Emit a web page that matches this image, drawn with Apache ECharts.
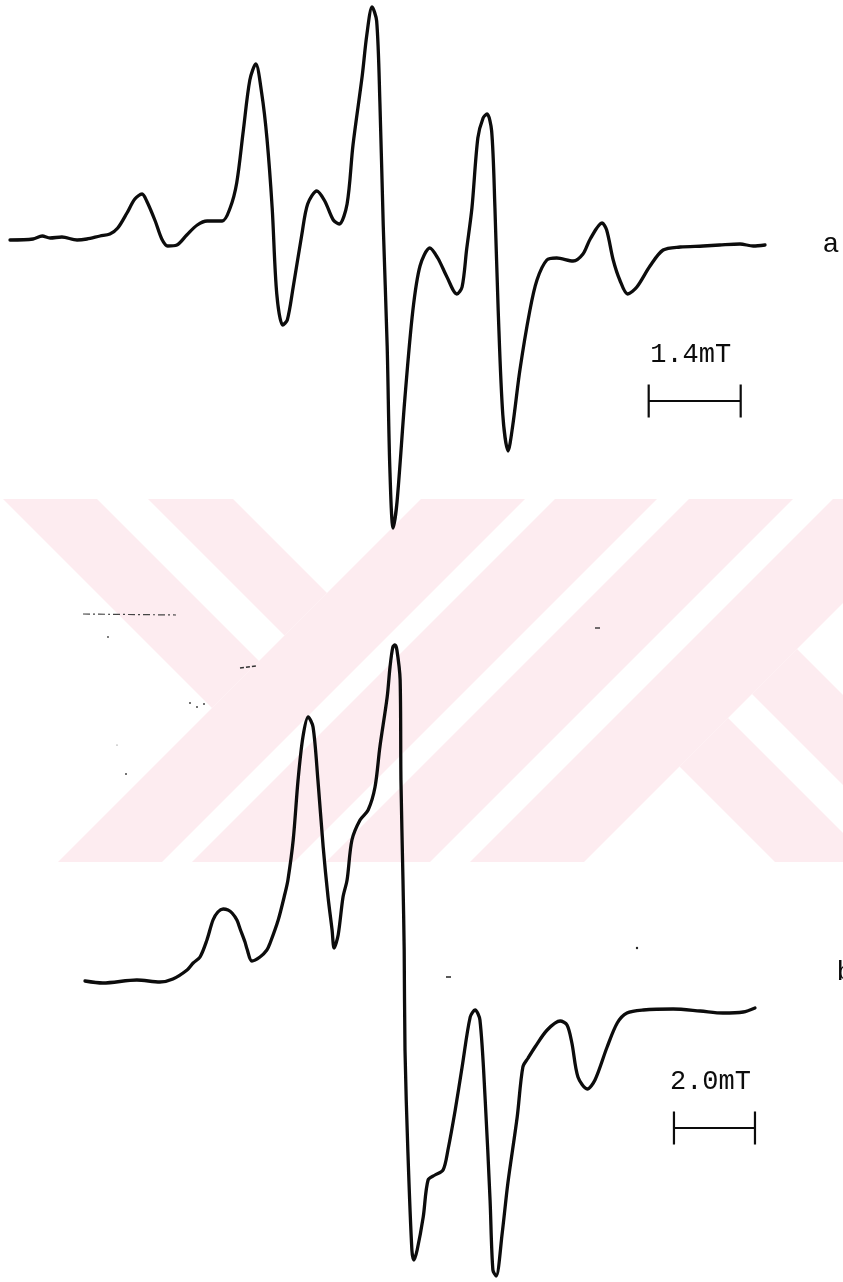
<!DOCTYPE html>
<html>
<head>
<meta charset="utf-8">
<script src="https://cdn.jsdelivr.net/npm/echarts@6/dist/echarts.min.js"></script>
<style>
  html, body { margin: 0; padding: 0; background: #ffffff; }
  #chart { width: 843px; height: 1282px; }
</style>
</head>
<body>
<div id="chart"></div>
<script>
// ---- Spectrum a: magnetic field offset (mT) and first-derivative signal (arb. units)
const fieldA = [0, 0.35, 0.49, 0.61, 0.79, 1.02, 1.17, 1.37, 1.52, 1.64, 1.78, 1.90, 2.01, 2.08, 2.21,
  2.31, 2.40, 2.54, 2.69, 2.85, 3.00, 3.23, 3.35, 3.45, 3.55, 3.65, 3.74, 3.83, 3.91, 3.99,
  4.06, 4.15, 4.22, 4.31, 4.44, 4.53, 4.67, 4.79, 4.92, 5.01, 5.13, 5.22, 5.36, 5.43, 5.51,
  5.58, 5.63, 5.68, 5.74, 5.78, 5.83, 5.89, 6.01, 6.13, 6.24, 6.39, 6.51, 6.65, 6.80, 6.88,
  6.95, 7.03, 7.12, 7.20, 7.26, 7.33, 7.38, 7.43, 7.50, 7.58, 7.65, 7.76, 7.91, 8.02, 8.17,
  8.32, 8.57, 8.72, 8.83, 9.01, 9.08, 9.18, 9.28, 9.40, 9.54, 9.74, 9.94, 10.20, 10.55, 10.80,
  11.11, 11.31, 11.49];
const signalA = [0, 1, 4, 2, 3, 0, 1, 4, 6, 12, 27, 41, 46, 39, 19,
  1, -6, -5, 5, 15, 19, 19, 32, 57, 109, 160, 176, 147, 102, 32,
  -54, -85, -80, -47, 5, 36, 49, 39, 20, 16, 36, 95, 164, 205, 233,
  219, 136, 15, -106, -227, -288, -262, -158, -71, -26, -8, -18, -37, -54, -47,
  -9, 32, 102, 122, 126, 109, 32, -71, -175, -211, -186, -130, -71, -40, -20,
  -18, -21, -14, 1, 17, 10, -20, -40, -54, -47, -26, -10, -7, -6, -5,
  -4, -6, -5];

// ---- Spectrum b
const fieldB = [0, 0.44, 1.28, 1.85, 2.17, 2.52, 2.67, 2.84, 3.01, 3.16, 3.28, 3.41, 3.53, 3.63, 3.75,
  3.83, 3.95, 4.00, 4.12, 4.32, 4.49, 4.57, 4.77, 4.94, 5.01, 5.14, 5.26, 5.38, 5.51, 5.63,
  5.75, 5.88, 6.00, 6.10, 6.15, 6.25, 6.37, 6.47, 6.59, 6.79, 6.99, 7.16, 7.28, 7.46, 7.53,
  7.60, 7.65, 7.70, 7.78, 7.80, 7.85, 7.88, 7.90, 7.97, 8.07, 8.12, 8.20, 8.35, 8.47, 8.64,
  8.84, 8.96, 9.14, 9.31, 9.51, 9.63, 9.75, 9.88, 10.00, 10.07, 10.15, 10.30, 10.44, 10.67, 10.81,
  10.94, 11.11, 11.41, 11.73, 11.90, 12.02, 12.17, 12.40, 12.59, 12.89, 13.14, 13.38, 13.78, 14.52, 15.19,
  15.75, 16.25, 16.54];
const signalB = [-1, -3, 0, -2, 1, 10, 17, 23, 40, 60, 68, 71, 70, 67, 60,
  51, 38, 31, 19, 23, 30, 37, 60, 87, 100, 140, 200, 243, 263, 253,
  200, 133, 83, 50, 32, 45, 83, 100, 140, 160, 170, 193, 233, 283, 313,
  333, 335, 330, 300, 200, 100, 30, -70, -170, -270, -280, -270, -237, -200, -195,
  -190, -170, -130, -87, -37, -30, -40, -120, -220, -290, -296, -253, -203, -137, -87,
  -78, -67, -50, -41, -45, -63, -97, -109, -100, -67, -43, -33, -30, -29, -31,
  -33, -32, -28];

// ---- Field scale bars (mT) and panel captions
const scaleBarsMT = [1.4, 2.0];
const scaleLabels = ['1.4mT', '2.0mT'];
const panelLabels = ['a', 'b'];

// ---------------------------------------------------------------------------
const INK = '#0c0c0c';
const MONO = '"Liberation Mono", "DejaVu Sans Mono", monospace';

const zip = (xs, ys) => xs.map((x, i) => [x, ys[i]]);

// scale bar placement in each panel's own data space: start field, level, tick half-height
const barPlace = [
  { start: 9.72, level: -161, tick: 16.5 },
  { start: 14.54, level: -148, tick: 16.5 }
];
function scaleBarPath(i) {
  const p = barPlace[i], x0 = p.start, x1 = p.start + scaleBarsMT[i];
  return [
    [x0, p.level + p.tick], [x0, p.level - p.tick], [x0, p.level],
    [x1, p.level], [x1, p.level + p.tick], [x1, p.level - p.tick]
  ];
}

// ---- faint pink banner behind the lower spectrum, built from 45° bands
const BAND = { x0: 0, x1: 843, y0: 499, y1: 862 };
function clipHalf(poly, a, b, c) { // keep a*x + b*y + c >= 0
  const out = [];
  for (let i = 0; i < poly.length; i++) {
    const p = poly[i], q = poly[(i + 1) % poly.length];
    const fp = a * p[0] + b * p[1] + c, fq = a * q[0] + b * q[1] + c;
    if (fp >= 0) out.push(p);
    if ((fp >= 0) !== (fq >= 0)) {
      const t = fp / (fp - fq);
      out.push([p[0] + t * (q[0] - p[0]), p[1] + t * (q[1] - p[1])]);
    }
  }
  return out;
}
function bandPiece(limits) {
  // limits: {uMin,uMax,vMin,vMax} on u = x + y and v = x - y
  let poly = [[BAND.x0, BAND.y0], [BAND.x1, BAND.y0], [BAND.x1, BAND.y1], [BAND.x0, BAND.y1]];
  if (limits.uMin != null) poly = clipHalf(poly, 1, 1, -limits.uMin);
  if (limits.uMax != null) poly = clipHalf(poly, -1, -1, limits.uMax);
  if (limits.vMin != null) poly = clipHalf(poly, 1, -1, -limits.vMin);
  if (limits.vMax != null) poly = clipHalf(poly, -1, 1, limits.vMax);
  return poly;
}
const bannerPieces = [
  { vMin: -496, vMax: -402, uMax: 920 },
  { vMin: -351, vMax: -266, uMax: 920 },
  { uMin: 920, uMax: 1024 },
  { uMin: 1054, uMax: 1156 },
  { uMin: 1188, uMax: 1292 },
  { uMin: 1332, uMax: 1446 },
  { vMin: -87, vMax: 10, uMin: 1446 },
  { vMin: 58, vMax: 148, uMin: 1446 }
];
const bannerGraphics = bannerPieces.map(l => ({
  type: 'polygon', z: -5, silent: true,
  shape: { points: bandPiece(l) },
  style: { fill: '#fdecf0' }
}));

// a few scanner specks on the paper
const specks = [
  { type: 'line', shape: { x1: 83, y1: 614, x2: 176, y2: 615 }, style: { stroke: '#444', lineWidth: 1.2, lineDash: [7, 3, 2, 3] } },
  { type: 'line', shape: { x1: 240, y1: 668, x2: 256, y2: 666 }, style: { stroke: '#333', lineWidth: 1.5, lineDash: [4, 2] } },
  { type: 'circle', shape: { cx: 108, cy: 637, r: 0.9 }, style: { fill: '#444' } },
  { type: 'circle', shape: { cx: 190, cy: 703, r: 1 }, style: { fill: '#444' } },
  { type: 'circle', shape: { cx: 197, cy: 707, r: 1 }, style: { fill: '#444' } },
  { type: 'circle', shape: { cx: 204, cy: 704, r: 1 }, style: { fill: '#444' } },
  { type: 'circle', shape: { cx: 126, cy: 774, r: 1 }, style: { fill: '#444' } },
  { type: 'circle', shape: { cx: 117, cy: 745, r: 0.6 }, style: { fill: '#666' } },
  { type: 'line', shape: { x1: 595, y1: 628, x2: 600, y2: 628 }, style: { stroke: '#333', lineWidth: 1.4 } },
  { type: 'circle', shape: { cx: 637, cy: 948, r: 1.2 }, style: { fill: '#222' } },
  { type: 'line', shape: { x1: 446, y1: 977, x2: 451, y2: 977 }, style: { stroke: '#222', lineWidth: 1.5 } }
].map(g => Object.assign({ silent: true, z: -4 }, g));

const traceStyle = { color: INK, width: 3.3, join: 'round', cap: 'round' };
const barStyle = { color: INK, width: 2.2, join: 'miter' };

const option = {
  backgroundColor: '#ffffff',
  animation: false,
  grid: [
    { left: 10, top: 0, width: 755, height: 550 },
    { left: 85, top: 600, width: 672, height: 682 }
  ],
  xAxis: [
    { type: 'value', gridIndex: 0, min: 0, max: 11.49, show: false },
    { type: 'value', gridIndex: 1, min: 0, max: 16.59, show: false }
  ],
  yAxis: [
    { type: 'value', gridIndex: 0, min: -310, max: 240, show: false },
    { type: 'value', gridIndex: 1, min: -302, max: 380, show: false }
  ],
  series: [
    { name: 'a', type: 'line', xAxisIndex: 0, yAxisIndex: 0, data: zip(fieldA, signalA),
      smooth: 0.3, showSymbol: false, lineStyle: traceStyle, z: 3, silent: true },
    { name: 'b', type: 'line', xAxisIndex: 1, yAxisIndex: 1, data: zip(fieldB, signalB),
      smooth: 0.3, showSymbol: false, lineStyle: traceStyle, z: 3, silent: true },
    { name: 'scale a', type: 'line', xAxisIndex: 0, yAxisIndex: 0, data: scaleBarPath(0),
      showSymbol: false, lineStyle: barStyle, z: 3, silent: true },
    { name: 'scale b', type: 'line', xAxisIndex: 1, yAxisIndex: 1, data: scaleBarPath(1),
      showSymbol: false, lineStyle: barStyle, z: 3, silent: true }
  ],
  graphic: bannerGraphics.concat(specks)
};

const chart = echarts.init(document.getElementById('chart'), null, { renderer: 'canvas' });
chart.setOption(option);

// captions placed relative to the scale bars and trace ends
const textStyle = (t, size) => ({ text: t, fill: INK, font: `${size}px ${MONO}`, align: 'center', verticalAlign: 'middle' });
const captions = [];
[0, 1].forEach(i => {
  const mid = chart.convertToPixel({ gridIndex: i }, [barPlace[i].start + scaleBarsMT[i] / 2, barPlace[i].level]);
  captions.push({ type: 'text', x: mid[0] - 4, y: mid[1] - 46, z: 5, silent: true, style: textStyle(scaleLabels[i], 27) });
});
const endA = chart.convertToPixel({ gridIndex: 0 }, [fieldA[fieldA.length - 1], 0]);
captions.push({ type: 'text', x: endA[0] + 66, y: endA[1] + 5, z: 5, silent: true, style: textStyle(panelLabels[0], 28) });
const endB = chart.convertToPixel({ gridIndex: 1 }, [fieldB[fieldB.length - 1], 0]);
captions.push({ type: 'text', x: endB[0] + 90, y: endB[1] - 7, z: 5, silent: true, style: textStyle(panelLabels[1], 28) });

chart.setOption({ graphic: bannerGraphics.concat(specks, captions) }, { replaceMerge: ['graphic'] });
</script>
</body>
</html>
